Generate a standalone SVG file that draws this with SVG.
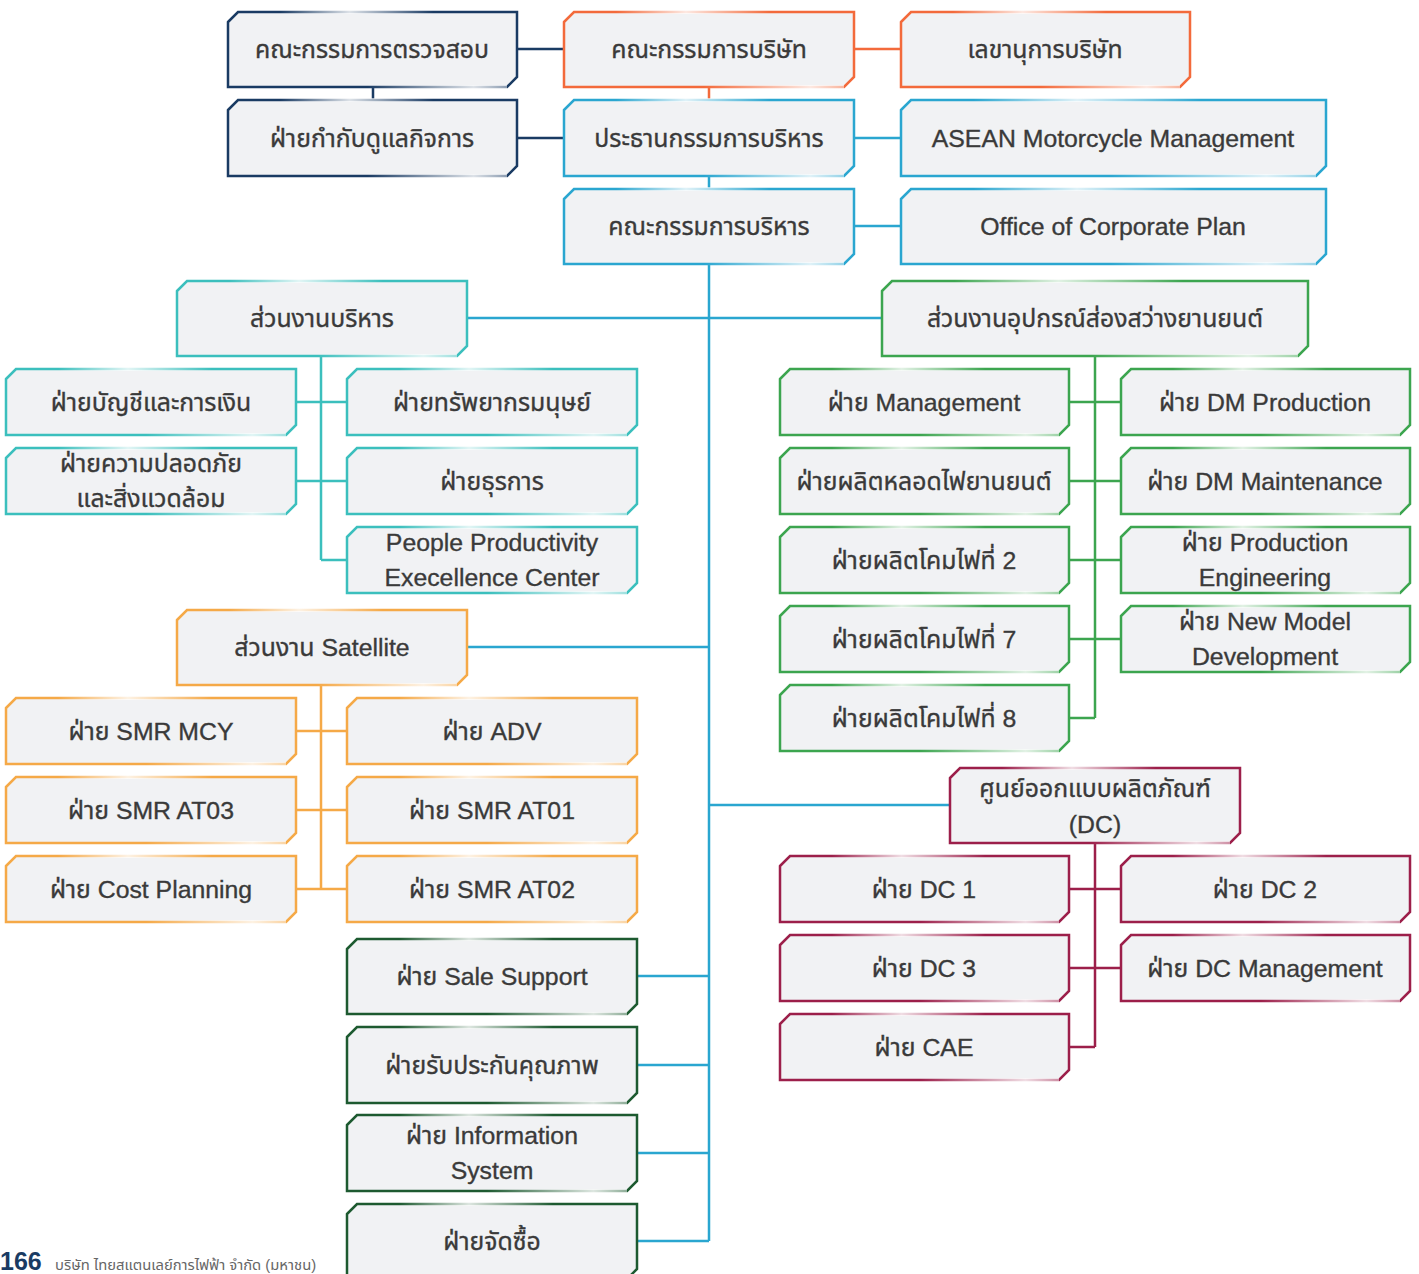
<svg xmlns="http://www.w3.org/2000/svg" width="1419" height="1274" viewBox="0 0 1419 1274">
<style>
text{font-family:"Liberation Sans","Noto Sans Thai","Noto Sans",sans-serif;font-size:24.8px;fill:#3a3a3a;stroke:#3a3a3a;stroke-width:0.35;text-anchor:middle}
.b{fill:#f1f2f4;stroke-width:2.5}
.ft{fill:url(#fadeT)}.fb{fill:url(#fadeB)}
.navy{stroke:#1a3b63}.orange{stroke:#f36a3b}.blue{stroke:#2aa6d0}.teal{stroke:#3bbfbd}.green{stroke:#3ca54f}.amber{stroke:#f5a947}.crimson{stroke:#9c1f4a}.dkgreen{stroke:#1d5a30}
#connectors path{fill:none;stroke-width:2.5}
</style>
<defs>
<linearGradient id="fadeT" x1="0" y1="0" x2="1" y2="0">
<stop offset="0" stop-color="#fff" stop-opacity="0"/><stop offset="0.15" stop-color="#fff" stop-opacity="0"/><stop offset="0.4" stop-color="#fff" stop-opacity="0.85"/><stop offset="0.7" stop-color="#fff" stop-opacity="0"/><stop offset="1" stop-color="#fff" stop-opacity="0"/>
</linearGradient>
<linearGradient id="fadeB" x1="0" y1="0" x2="1" y2="0">
<stop offset="0" stop-color="#fff" stop-opacity="0"/><stop offset="0.5" stop-color="#fff" stop-opacity="0"/><stop offset="0.88" stop-color="#fff" stop-opacity="0.85"/><stop offset="1" stop-color="#fff" stop-opacity="0.5"/>
</linearGradient>
</defs>

<g id="connectors">
<path class="navy" d="M517 49H564M517 138H564M373 87V100"/>
<path class="orange" d="M854 49H901M709 87V100"/>
<path class="blue" d="M709 176V189M854 138H901M854 226H901M709 264V1241M467 318H882M467 647H709M709 805H950M637 976H709M637 1065H709M637 1153H709M637 1241H709"/>
<path class="teal" d="M321 356V560M296 402H347M296 481H347M321 560H347"/>
<path class="green" d="M1095 356V718M1069 402H1121M1069 481H1121M1069 560H1121M1069 639H1121M1069 718H1095"/>
<path class="amber" d="M321 685V889M296 731H347M296 810H347M296 889H347"/>
<path class="crimson" d="M1095 843V1047M1069 889H1121M1069 968H1121M1069 1047H1095"/>
</g>

<g id="n1"><path class="b navy" d="M228 22L238 12H517V77L507 87H228Z"/><rect class="ft" x="238" y="10" width="279" height="4"/><rect class="fb" x="228" y="85" width="279" height="4"/><text x="372" y="58">คณะกรรมการตรวจสอบ</text></g>
<g id="n2"><path class="b orange" d="M564 22L574 12H854V77L844 87H564Z"/><rect class="ft" x="574" y="10" width="280" height="4"/><rect class="fb" x="564" y="85" width="280" height="4"/><text x="709" y="58">คณะกรรมการบริษัท</text></g>
<g id="n3"><path class="b orange" d="M901 22L911 12H1190V77L1180 87H901Z"/><rect class="ft" x="911" y="10" width="279" height="4"/><rect class="fb" x="901" y="85" width="279" height="4"/><text x="1045" y="58">เลขานุการบริษัท</text></g>
<g id="n4"><path class="b navy" d="M228 110L238 100H517V166L507 176H228Z"/><rect class="ft" x="238" y="98" width="279" height="4"/><rect class="fb" x="228" y="174" width="279" height="4"/><text x="372" y="147">ฝ่ายกำกับดูแลกิจการ</text></g>
<g id="n5"><path class="b blue" d="M564 110L574 100H854V166L844 176H564Z"/><rect class="ft" x="574" y="98" width="280" height="4"/><rect class="fb" x="564" y="174" width="280" height="4"/><text x="709" y="147">ประธานกรรมการบริหาร</text></g>
<g id="n6"><path class="b blue" d="M901 110L911 100H1326V166L1316 176H901Z"/><rect class="ft" x="911" y="98" width="415" height="4"/><rect class="fb" x="901" y="174" width="415" height="4"/><text x="1113" y="147">ASEAN Motorcycle Management</text></g>
<g id="n7"><path class="b blue" d="M564 199L574 189H854V254L844 264H564Z"/><rect class="ft" x="574" y="187" width="280" height="4"/><rect class="fb" x="564" y="262" width="280" height="4"/><text x="709" y="235">คณะกรรมการบริหาร</text></g>
<g id="n8"><path class="b blue" d="M901 199L911 189H1326V254L1316 264H901Z"/><rect class="ft" x="911" y="187" width="415" height="4"/><rect class="fb" x="901" y="262" width="415" height="4"/><text x="1113" y="235">Office of Corporate Plan</text></g>

<g id="n9"><path class="b teal" d="M177 291L187 281H467V346L457 356H177Z"/><rect class="ft" x="187" y="279" width="280" height="4"/><rect class="fb" x="177" y="354" width="280" height="4"/><text x="322" y="327">ส่วนงานบริหาร</text></g>
<g id="n10"><path class="b green" d="M882 291L892 281H1308V346L1298 356H882Z"/><rect class="ft" x="892" y="279" width="416" height="4"/><rect class="fb" x="882" y="354" width="416" height="4"/><text x="1095" y="327">ส่วนงานอุปกรณ์ส่องสว่างยานยนต์</text></g>

<g id="n11"><path class="b teal" d="M6 379L16 369H296V425L286 435H6Z"/><rect class="ft" x="16" y="367" width="280" height="4"/><rect class="fb" x="6" y="433" width="280" height="4"/><text x="151" y="411">ฝ่ายบัญชีและการเงิน</text></g>
<g id="n12"><path class="b teal" d="M347 379L357 369H637V425L627 435H347Z"/><rect class="ft" x="357" y="367" width="280" height="4"/><rect class="fb" x="347" y="433" width="280" height="4"/><text x="492" y="411">ฝ่ายทรัพยากรมนุษย์</text></g>
<g id="n13"><path class="b teal" d="M6 458L16 448H296V504L286 514H6Z"/><rect class="ft" x="16" y="446" width="280" height="4"/><rect class="fb" x="6" y="512" width="280" height="4"/><text x="151" y="472">ฝ่ายความปลอดภัย</text><text x="151" y="507">และสิ่งแวดล้อม</text></g>
<g id="n14"><path class="b teal" d="M347 458L357 448H637V504L627 514H347Z"/><rect class="ft" x="357" y="446" width="280" height="4"/><rect class="fb" x="347" y="512" width="280" height="4"/><text x="492" y="490">ฝ่ายธุรการ</text></g>
<g id="n15"><path class="b teal" d="M347 537L357 527H637V583L627 593H347Z"/><rect class="ft" x="357" y="525" width="280" height="4"/><rect class="fb" x="347" y="591" width="280" height="4"/><text x="492" y="551">People Productivity</text><text x="492" y="586">Execellence Center</text></g>

<g id="n16"><path class="b green" d="M780 379L790 369H1069V425L1059 435H780Z"/><rect class="ft" x="790" y="367" width="279" height="4"/><rect class="fb" x="780" y="433" width="279" height="4"/><text x="924" y="411">ฝ่าย Management</text></g>
<g id="n17"><path class="b green" d="M1121 379L1131 369H1410V425L1400 435H1121Z"/><rect class="ft" x="1131" y="367" width="279" height="4"/><rect class="fb" x="1121" y="433" width="279" height="4"/><text x="1265" y="411">ฝ่าย DM Production</text></g>
<g id="n18"><path class="b green" d="M780 458L790 448H1069V504L1059 514H780Z"/><rect class="ft" x="790" y="446" width="279" height="4"/><rect class="fb" x="780" y="512" width="279" height="4"/><text x="924" y="490">ฝ่ายผลิตหลอดไฟยานยนต์</text></g>
<g id="n19"><path class="b green" d="M1121 458L1131 448H1410V504L1400 514H1121Z"/><rect class="ft" x="1131" y="446" width="279" height="4"/><rect class="fb" x="1121" y="512" width="279" height="4"/><text x="1265" y="490">ฝ่าย DM Maintenance</text></g>
<g id="n20"><path class="b green" d="M780 537L790 527H1069V583L1059 593H780Z"/><rect class="ft" x="790" y="525" width="279" height="4"/><rect class="fb" x="780" y="591" width="279" height="4"/><text x="924" y="569">ฝ่ายผลิตโคมไฟที่ 2</text></g>
<g id="n21"><path class="b green" d="M1121 537L1131 527H1410V583L1400 593H1121Z"/><rect class="ft" x="1131" y="525" width="279" height="4"/><rect class="fb" x="1121" y="591" width="279" height="4"/><text x="1265" y="551">ฝ่าย Production</text><text x="1265" y="586">Engineering</text></g>
<g id="n22"><path class="b green" d="M780 616L790 606H1069V662L1059 672H780Z"/><rect class="ft" x="790" y="604" width="279" height="4"/><rect class="fb" x="780" y="670" width="279" height="4"/><text x="924" y="648">ฝ่ายผลิตโคมไฟที่ 7</text></g>
<g id="n23"><path class="b green" d="M1121 616L1131 606H1410V662L1400 672H1121Z"/><rect class="ft" x="1131" y="604" width="279" height="4"/><rect class="fb" x="1121" y="670" width="279" height="4"/><text x="1265" y="630">ฝ่าย New Model</text><text x="1265" y="665">Development</text></g>
<g id="n24"><path class="b green" d="M780 695L790 685H1069V741L1059 751H780Z"/><rect class="ft" x="790" y="683" width="279" height="4"/><rect class="fb" x="780" y="749" width="279" height="4"/><text x="924" y="727">ฝ่ายผลิตโคมไฟที่ 8</text></g>

<g id="n25"><path class="b amber" d="M177 620L187 610H467V675L457 685H177Z"/><rect class="ft" x="187" y="608" width="280" height="4"/><rect class="fb" x="177" y="683" width="280" height="4"/><text x="322" y="656">ส่วนงาน Satellite</text></g>
<g id="n26"><path class="b amber" d="M6 708L16 698H296V754L286 764H6Z"/><rect class="ft" x="16" y="696" width="280" height="4"/><rect class="fb" x="6" y="762" width="280" height="4"/><text x="151" y="740">ฝ่าย SMR MCY</text></g>
<g id="n27"><path class="b amber" d="M347 708L357 698H637V754L627 764H347Z"/><rect class="ft" x="357" y="696" width="280" height="4"/><rect class="fb" x="347" y="762" width="280" height="4"/><text x="492" y="740">ฝ่าย ADV</text></g>
<g id="n28"><path class="b amber" d="M6 787L16 777H296V833L286 843H6Z"/><rect class="ft" x="16" y="775" width="280" height="4"/><rect class="fb" x="6" y="841" width="280" height="4"/><text x="151" y="819">ฝ่าย SMR AT03</text></g>
<g id="n29"><path class="b amber" d="M347 787L357 777H637V833L627 843H347Z"/><rect class="ft" x="357" y="775" width="280" height="4"/><rect class="fb" x="347" y="841" width="280" height="4"/><text x="492" y="819">ฝ่าย SMR AT01</text></g>
<g id="n30"><path class="b amber" d="M6 866L16 856H296V912L286 922H6Z"/><rect class="ft" x="16" y="854" width="280" height="4"/><rect class="fb" x="6" y="920" width="280" height="4"/><text x="151" y="898">ฝ่าย Cost Planning</text></g>
<g id="n31"><path class="b amber" d="M347 866L357 856H637V912L627 922H347Z"/><rect class="ft" x="357" y="854" width="280" height="4"/><rect class="fb" x="347" y="920" width="280" height="4"/><text x="492" y="898">ฝ่าย SMR AT02</text></g>

<g id="n32"><path class="b crimson" d="M950 778L960 768H1240V833L1230 843H950Z"/><rect class="ft" x="960" y="766" width="280" height="4"/><rect class="fb" x="950" y="841" width="280" height="4"/><text x="1095" y="797">ศูนย์ออกแบบผลิตภัณฑ์</text><text x="1095" y="833">(DC)</text></g>
<g id="n33"><path class="b crimson" d="M780 866L790 856H1069V912L1059 922H780Z"/><rect class="ft" x="790" y="854" width="279" height="4"/><rect class="fb" x="780" y="920" width="279" height="4"/><text x="924" y="898">ฝ่าย DC 1</text></g>
<g id="n34"><path class="b crimson" d="M1121 866L1131 856H1410V912L1400 922H1121Z"/><rect class="ft" x="1131" y="854" width="279" height="4"/><rect class="fb" x="1121" y="920" width="279" height="4"/><text x="1265" y="898">ฝ่าย DC 2</text></g>
<g id="n35"><path class="b crimson" d="M780 945L790 935H1069V991L1059 1001H780Z"/><rect class="ft" x="790" y="933" width="279" height="4"/><rect class="fb" x="780" y="999" width="279" height="4"/><text x="924" y="977">ฝ่าย DC 3</text></g>
<g id="n36"><path class="b crimson" d="M1121 945L1131 935H1410V991L1400 1001H1121Z"/><rect class="ft" x="1131" y="933" width="279" height="4"/><rect class="fb" x="1121" y="999" width="279" height="4"/><text x="1265" y="977">ฝ่าย DC Management</text></g>
<g id="n37"><path class="b crimson" d="M780 1024L790 1014H1069V1070L1059 1080H780Z"/><rect class="ft" x="790" y="1012" width="279" height="4"/><rect class="fb" x="780" y="1078" width="279" height="4"/><text x="924" y="1056">ฝ่าย CAE</text></g>

<g id="n38"><path class="b dkgreen" d="M347 949L357 939H637V1004L627 1014H347Z"/><rect class="ft" x="357" y="937" width="280" height="4"/><rect class="fb" x="347" y="1012" width="280" height="4"/><text x="492" y="985">ฝ่าย Sale Support</text></g>
<g id="n39"><path class="b dkgreen" d="M347 1037L357 1027H637V1093L627 1103H347Z"/><rect class="ft" x="357" y="1025" width="280" height="4"/><rect class="fb" x="347" y="1101" width="280" height="4"/><text x="492" y="1074">ฝ่ายรับประกันคุณภาพ</text></g>
<g id="n40"><path class="b dkgreen" d="M347 1125L357 1115H637V1181L627 1191H347Z"/><rect class="ft" x="357" y="1113" width="280" height="4"/><rect class="fb" x="347" y="1189" width="280" height="4"/><text x="492" y="1144">ฝ่าย Information</text><text x="492" y="1179">System</text></g>
<g id="n41"><path class="b dkgreen" d="M347 1214L357 1204H637V1269L627 1279H347Z"/><rect class="ft" x="357" y="1202" width="280" height="4"/><text x="492" y="1250">ฝ่ายจัดซื้อ</text></g>

<g id="footer">
<text x="0" y="1270" style="text-anchor:start;font-size:25px;font-weight:bold;fill:#1a3b63;stroke:none">166</text>
<text x="55" y="1270" style="text-anchor:start;font-size:14.8px;fill:#666;stroke:none">บริษัท ไทยสแตนเลย์การไฟฟ้า จำกัด (มหาชน)</text>
</g>
</svg>
